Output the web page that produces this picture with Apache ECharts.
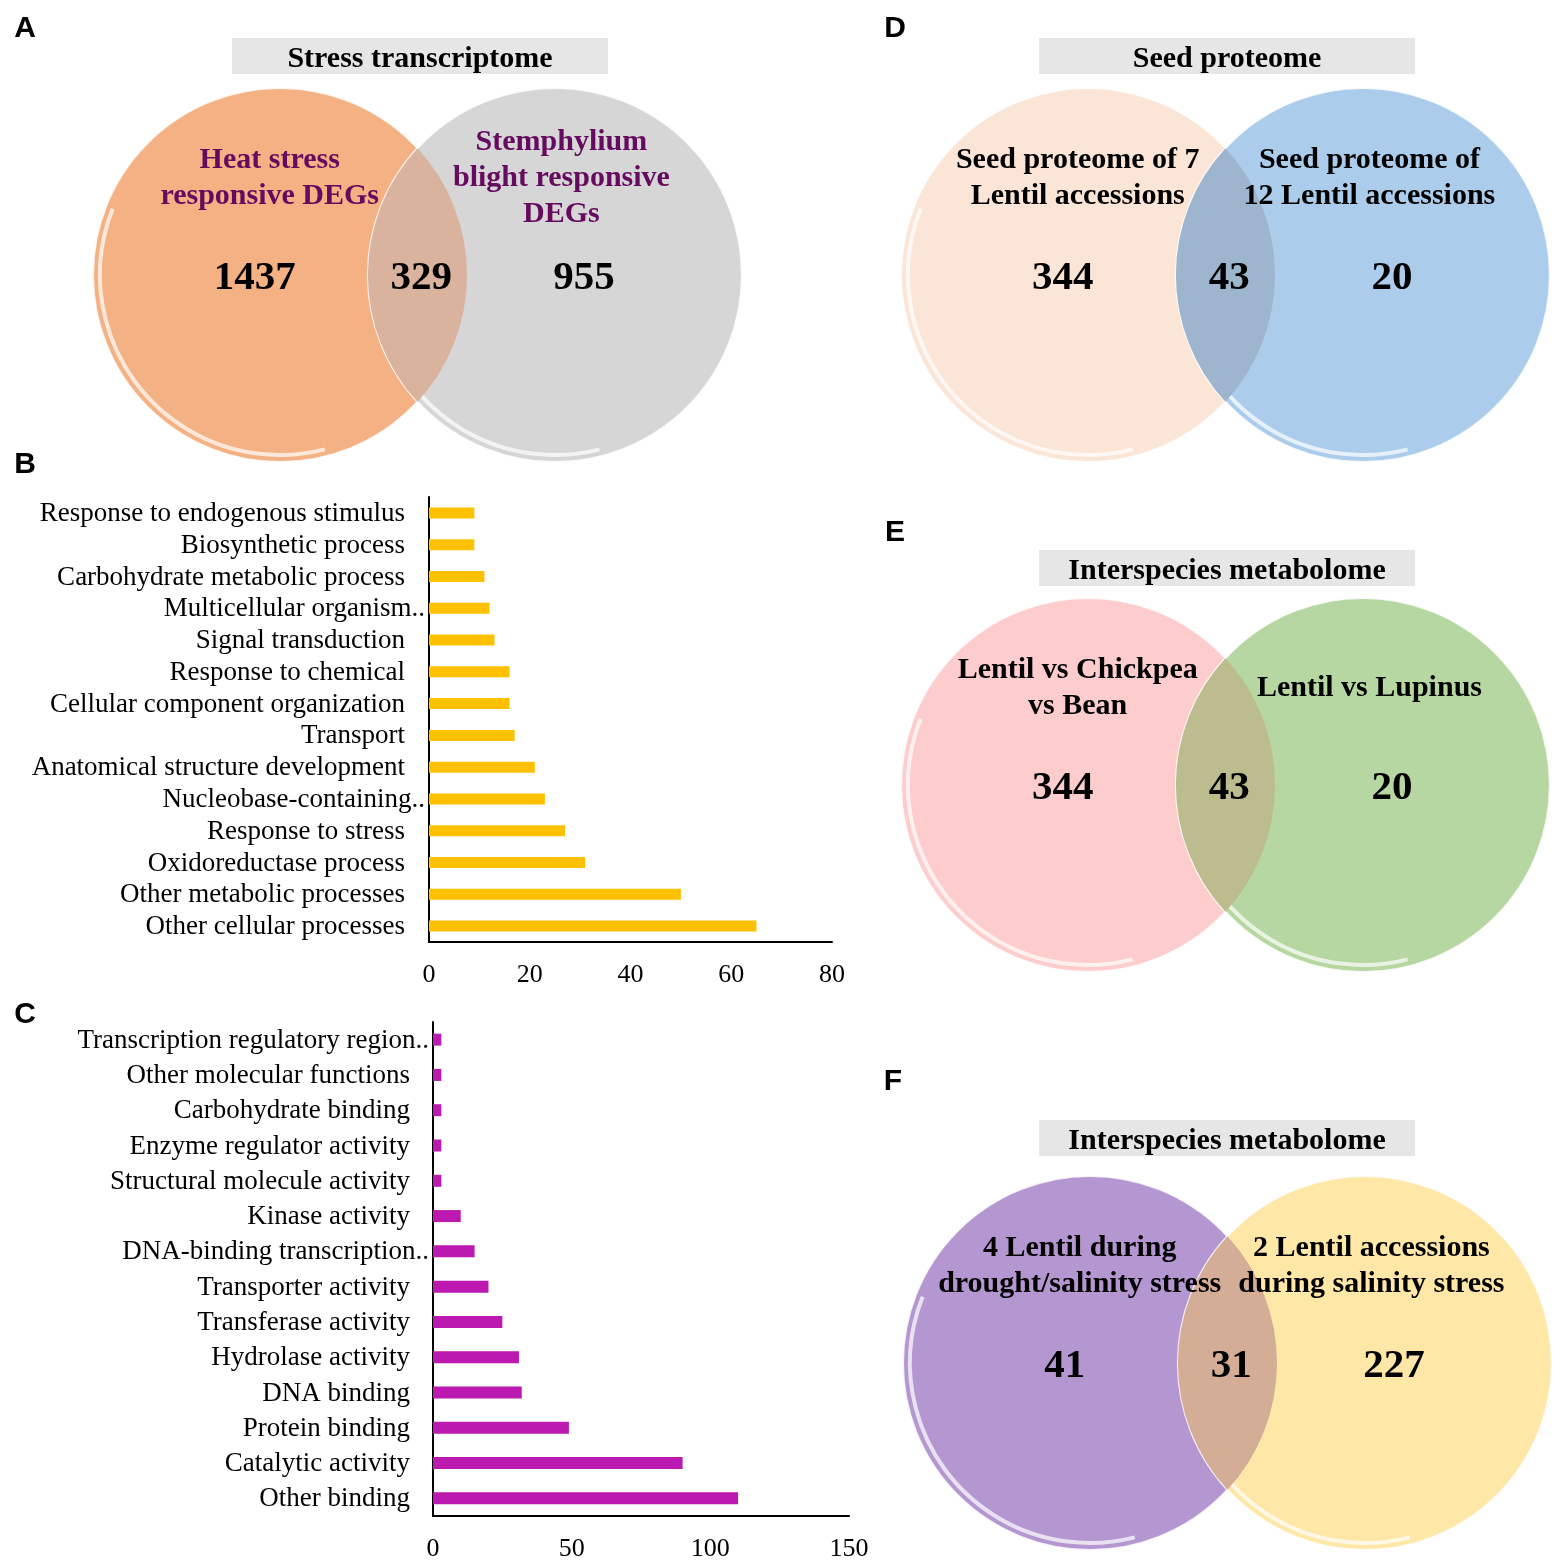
<!DOCTYPE html>
<html><head><meta charset="utf-8">
<script src="https://cdn.jsdelivr.net/npm/echarts@6/dist/echarts.min.js"></script>
<style>html,body{margin:0;padding:0;background:#fff}#c{width:1562px;height:1562px}</style>
</head><body><div id="c"></div>
<script>
// ---------- DATA ----------
// Panel B: biological process categories
const bpCategories = ['Response to endogenous stimulus','Biosynthetic process','Carbohydrate metabolic process','Multicellular organism..','Signal transduction','Response to chemical','Cellular component organization','Transport','Anatomical structure development','Nucleobase-containing..','Response to stress','Oxidoreductase process','Other metabolic processes','Other cellular processes'];
const bpValues = [9, 9, 11, 12, 13, 16, 16, 17, 21, 23, 27, 31, 50, 65];
const bpTicks = [0, 20, 40, 60, 80];
// Panel C: molecular function categories
const mfCategories = ['Transcription regulatory region..','Other molecular functions','Carbohydrate binding','Enzyme regulator activity','Structural molecule activity','Kinase activity','DNA-binding transcription..','Transporter activity','Transferase activity','Hydrolase activity','DNA binding','Protein binding','Catalytic activity','Other binding'];
const mfValues = [3, 3, 3, 3, 3, 10, 15, 20, 25, 31, 32, 49, 90, 110];
const mfTicks = [0, 50, 100, 150];
// Venn panels A, D, E, F
const vennPanels = ['A', 'D', 'E', 'F'];
const vennTitles = ['Stress transcriptome', 'Seed proteome', 'Interspecies metabolome', 'Interspecies metabolome'];
const vennLeftLabels = ['Heat stress\nresponsive DEGs', 'Seed proteome of 7\nLentil accessions', 'Lentil vs Chickpea\nvs Bean', '4 Lentil during\ndrought/salinity stress'];
const vennRightLabels = ['Stemphylium\nblight responsive\nDEGs', 'Seed proteome of\n12 Lentil accessions', 'Lentil vs Lupinus', '2 Lentil accessions\nduring salinity stress'];
const vennLeftOnly = [1437, 344, 344, 41];
const vennShared = [329, 43, 43, 31];
const vennRightOnly = [955, 20, 20, 227];

// ---------- LAYOUT / STYLE ----------
const SERIF = "'Times New Roman', 'Liberation Serif', serif";
const SANS = "Arial, 'Liberation Sans', sans-serif";
const R = 187;            // circle radius in px
const OFF = 0.735;        // centre offset in radius units
const vennBoxes = [{left: 93, top: 88}, {left: 901, top: 88}, {left: 901, top: 598}, {left: 903, top: 1176}];
const vennTitleBoxes = [{cx: 420, cy: 56}, {cx: 1227, cy: 56}, {cx: 1227, cy: 568}, {cx: 1227, cy: 1138}];
const vennColors = [
  {l: '#F4B183', r: '#D6D6D6', lens: '#D9B39E', text: '#650A5F'},
  {l: '#FBE5D6', r: '#ABCDEB', lens: '#9DB5CD', text: '#000'},
  {l: '#FDCDCD', r: '#B6D7A1', lens: '#BDBC8E', text: '#000'},
  {l: '#B497D1', r: '#FFE7A8', lens: '#D4AD97', text: '#000'}
];
const letterPos = {A: [25, 28], B: [25, 464], C: [25, 1014], D: [895, 28], E: [895, 532], F: [893, 1081]};

const grids = [
  {left: 429, top: 497, width: 403, height: 445},
  {left: 433, top: 1022, width: 416, height: 494}
];
const xAxes = [], yAxes = [], series = [];

function barAxes(cats, ticks, gi, pad) {
  xAxes.push({
    type: 'value', gridIndex: gi, min: ticks[0], max: ticks[ticks.length - 1], interval: ticks[1] - ticks[0],
    splitLine: {show: false}, axisTick: {show: false},
    axisLine: {show: true, lineStyle: {color: '#000', width: 2}},
    axisLabel: {margin: 20, fontSize: 26, fontFamily: SERIF, color: '#000'}
  });
  yAxes.push({
    type: 'category', gridIndex: gi, data: cats, inverse: true,
    axisTick: {show: false}, axisLine: {show: true, onZero: false, lineStyle: {color: '#000', width: 2}},
    axisLabel: {
      margin: 4, interval: 0,
      formatter: v => v.endsWith('..') ? '{t|' + v + '}' : '{n|' + v + '}',
      rich: {
        n: {fontSize: 27, fontFamily: SERIF, color: '#000', padding: [2, pad, 0, 0]},
        t: {fontSize: 27, fontFamily: SERIF, color: '#000', padding: [2, 0, 0, 0]}
      }
    }
  });
}
barAxes(bpCategories, bpTicks, 0, 20);
barAxes(mfCategories, mfTicks, 1, 19);
series.push({type: 'bar', xAxisIndex: 0, yAxisIndex: 0, data: bpValues, barWidth: 11, itemStyle: {color: '#FFC000'}});
series.push({type: 'bar', xAxisIndex: 1, yAxisIndex: 1, data: mfValues, barWidth: 12, itemStyle: {color: '#BB19B0'}});

function renderCircle(params, api) {
  const c = api.coord([api.value(0), api.value(1)]);
  const r = api.size([api.value(2), api.value(2)])[0];
  const color = api.visual('color');
  return {type: 'group', children: [
    {type: 'circle', shape: {cx: c[0], cy: c[1], r: r}, style: {fill: color, stroke: 'rgba(255,255,255,0.85)', lineWidth: 2}},
    {type: 'arc', shape: {cx: c[0], cy: c[1], r: r - 7, startAngle: Math.PI * 0.42, endAngle: Math.PI * 1.12, clockwise: true},
      style: {stroke: 'rgba(255,255,255,0.7)', lineWidth: 4, fill: 'none'}}
  ]};
}
function renderLens(params, api) {
  const p1 = api.coord([api.value(0), api.value(2)]);
  const p2 = api.coord([api.value(1), api.value(2)]);
  const r = api.size([api.value(3), api.value(3)])[0];
  const mx = (p1[0] + p2[0]) / 2, d = p2[0] - p1[0];
  const h = Math.sqrt(r * r - d * d / 4);
  const cy = p1[1];
  const path = 'M' + mx + ' ' + (cy - h) + ' A' + r + ' ' + r + ' 0 0 1 ' + mx + ' ' + (cy + h) +
    ' A' + r + ' ' + r + ' 0 0 1 ' + mx + ' ' + (cy - h) + ' Z';
  return {type: 'path', shape: {pathData: path}, style: {fill: api.visual('color')}};
}

const graphics = [];
vennPanels.forEach((p, i) => {
  const gi = grids.length;
  const b = vennBoxes[i];
  grids.push({left: b.left, top: b.top, width: (2 * OFF + 2) * R, height: 2 * R});
  xAxes.push({type: 'value', gridIndex: gi, min: -(OFF + 1), max: OFF + 1, show: false});
  yAxes.push({type: 'value', gridIndex: gi, min: -1, max: 1, inverse: true, show: false});
  const col = vennColors[i];
  series.push({type: 'custom', xAxisIndex: gi, yAxisIndex: gi, renderItem: renderCircle, z: 2,
    data: [{value: [-OFF, 0, 1], itemStyle: {color: col.l}}, {value: [OFF, 0, 1], itemStyle: {color: col.r}}]});
  series.push({type: 'custom', xAxisIndex: gi, yAxisIndex: gi, renderItem: renderLens, z: 3,
    data: [{value: [-OFF, OFF, 0, 1], itemStyle: {color: col.lens}}]});
  series.push({type: 'scatter', xAxisIndex: gi, yAxisIndex: gi, symbolSize: 0, z: 5, itemStyle: {opacity: 1},
    label: {show: true, position: 'inside', formatter: '{b}', fontSize: 41, fontWeight: 'bold', fontFamily: SERIF, color: '#000'},
    data: [
      {value: [-0.87, 0.02], name: String(vennLeftOnly[i])},
      {value: [0.02, 0.02], name: String(vennShared[i])},
      {value: [0.89, 0.02], name: String(vennRightOnly[i])}
    ]});
  series.push({type: 'scatter', xAxisIndex: gi, yAxisIndex: gi, symbolSize: 0, z: 5, itemStyle: {opacity: 1},
    label: {show: true, position: 'inside', formatter: '{b}', fontSize: 30, lineHeight: 36, fontWeight: 'bold', fontFamily: SERIF, color: col.text, align: 'center'},
    data: [
      {value: [-0.79, -0.52], name: vennLeftLabels[i]},
      {value: [0.77, -0.52], name: vennRightLabels[i]}
    ]});
  const tb = vennTitleBoxes[i];
  graphics.push({type: 'rect', shape: {x: tb.cx - 188, y: tb.cy - 18, width: 376, height: 36}, style: {fill: '#E6E6E6'}, z: 10});
  graphics.push({type: 'text', x: tb.cx, y: tb.cy + 3, z: 11,
    style: {text: vennTitles[i], fill: '#000', font: 'bold 30px ' + SERIF, textAlign: 'center', textVerticalAlign: 'middle'}});
});
Object.keys(letterPos).forEach(k => {
  graphics.push({type: 'text', x: letterPos[k][0], y: letterPos[k][1] + 1, z: 11,
    style: {text: k, fill: '#000', font: 'bold 30px ' + SANS, textAlign: 'center', textVerticalAlign: 'middle'}});
});

const chart = echarts.init(document.getElementById('c'), null, {renderer: 'canvas'});
chart.setOption({
  animation: false,
  backgroundColor: '#fff',
  grid: grids, xAxis: xAxes, yAxis: yAxes, series: series, graphic: graphics
});
</script></body></html>
